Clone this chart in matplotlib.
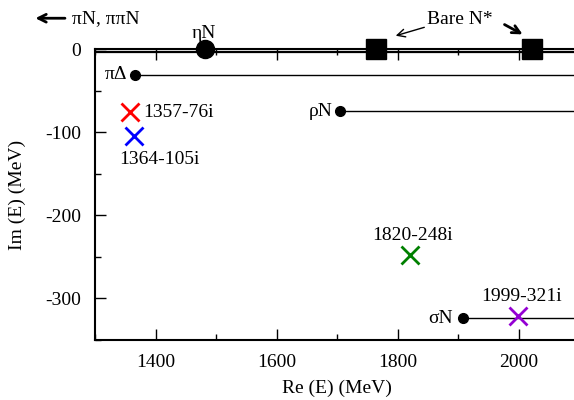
import matplotlib.pyplot as plt
from matplotlib.ticker import MultipleLocator

plt.rcParams['font.family'] = ['Liberation Serif', 'DejaVu Serif']
plt.rcParams['font.size'] = 14
plt.rcParams['axes.unicode_minus'] = False

# thresholds (Re, Im) in MeV
thr_names = ["πΔ", "ρN", "σN"]
thr_re = [1366, 1705, 1908]
thr_im = [-31, -75, -324]

eta_re, eta_im = 1482, 0
bare_re = [1764, 2022]
bare_im = [0, 0]

# poles
pole_re = [1357, 1364, 1820, 1999]
pole_im = [-76, -105, -248, -321]
pole_lbl = ["1357-76i", "1364-105i", "1820-248i", "1999-321i"]
pole_col = ["red", "blue", "green", "darkviolet"]

xmin, xmax = 1300, 2100
ymin, ymax = -350, 0

fig = plt.figure(figsize=(5.74, 4.0), dpi=100)
ax = fig.add_axes([95 / 574, 60 / 400, 484.6 / 574, 291 / 400])
ax.set_xlim(xmin, xmax)
ax.set_ylim(ymin, ymax)

# piN / pipiN / etaN lines along Im=0
ax.plot([xmin, xmax], [-2, -2], color="black", lw=0.9, clip_on=False)
ax.plot([xmin, xmax], [-4, -4], color="black", lw=0.9, clip_on=False)

# threshold lines
for r, i in zip(thr_re, thr_im):
    ax.plot([r, xmax], [i, i], color="black", lw=1.0)
    ax.plot(r, i, "o", color="black", ms=7)

ax.plot(eta_re, eta_im, "o", color="black", ms=13, clip_on=False, zorder=5)
ax.plot(bare_re, bare_im, "s", color="black", ms=15, clip_on=False, zorder=5)

for r, i, c in zip(pole_re, pole_im, pole_col):
    ax.plot(r, i, "x", color=c, ms=13, mew=2)

# labels
ax.text(1354, -31, thr_names[0], ha="right", va="center")
ax.text(1693, -75, thr_names[1], ha="right", va="center")
ax.text(1890, -324, thr_names[2], ha="right", va="center")
ax.text(eta_re - 3, 8, "ηN", ha="center", va="bottom")
ax.text(1380, -76, pole_lbl[0], ha="left", va="center")
ax.text(1406, -133, pole_lbl[1], ha="center", va="center")
ax.text(1825, -224, pole_lbl[2], ha="center", va="center")
ax.text(2004, -298, pole_lbl[3], ha="center", va="center")

# bare N* annotation
ax.text(1903, 36, "Bare N*", ha="center", va="center")
ax.annotate("", xy=(1792, 15), xytext=(1848, 27), annotation_clip=False,
            arrowprops=dict(arrowstyle="->", color="black", lw=1.0))
ax.annotate("", xy=(2010, 16), xytext=(1972, 31), annotation_clip=False,
            arrowprops=dict(arrowstyle="->", color="black", lw=2.0))

# piN, pipiN arrow
ax.text(1262, 37, "πN, ππN", ha="left", va="center")
ax.annotate("", xy=(1197, 37), xytext=(1255, 37), annotation_clip=False,
            arrowprops=dict(arrowstyle="->", color="black", lw=2.0))

ax.set_xlabel("Re (E) (MeV)", labelpad=6)
ax.set_ylabel("Im (E) (MeV)", labelpad=14)

ax.xaxis.set_major_locator(MultipleLocator(200))
ax.xaxis.set_minor_locator(MultipleLocator(100))
ax.yaxis.set_major_locator(MultipleLocator(100))
ax.yaxis.set_minor_locator(MultipleLocator(50))
ax.tick_params(which="both", direction="in", top=True, right=False)
ax.tick_params(which="major", length=8, width=1, pad=10)
ax.tick_params(which="minor", length=4, width=1)
ax.spines["right"].set_visible(False)
for s in ["left", "bottom", "top"]:
    ax.spines[s].set_linewidth(1.5)

fig.savefig("out.png", dpi=100)
